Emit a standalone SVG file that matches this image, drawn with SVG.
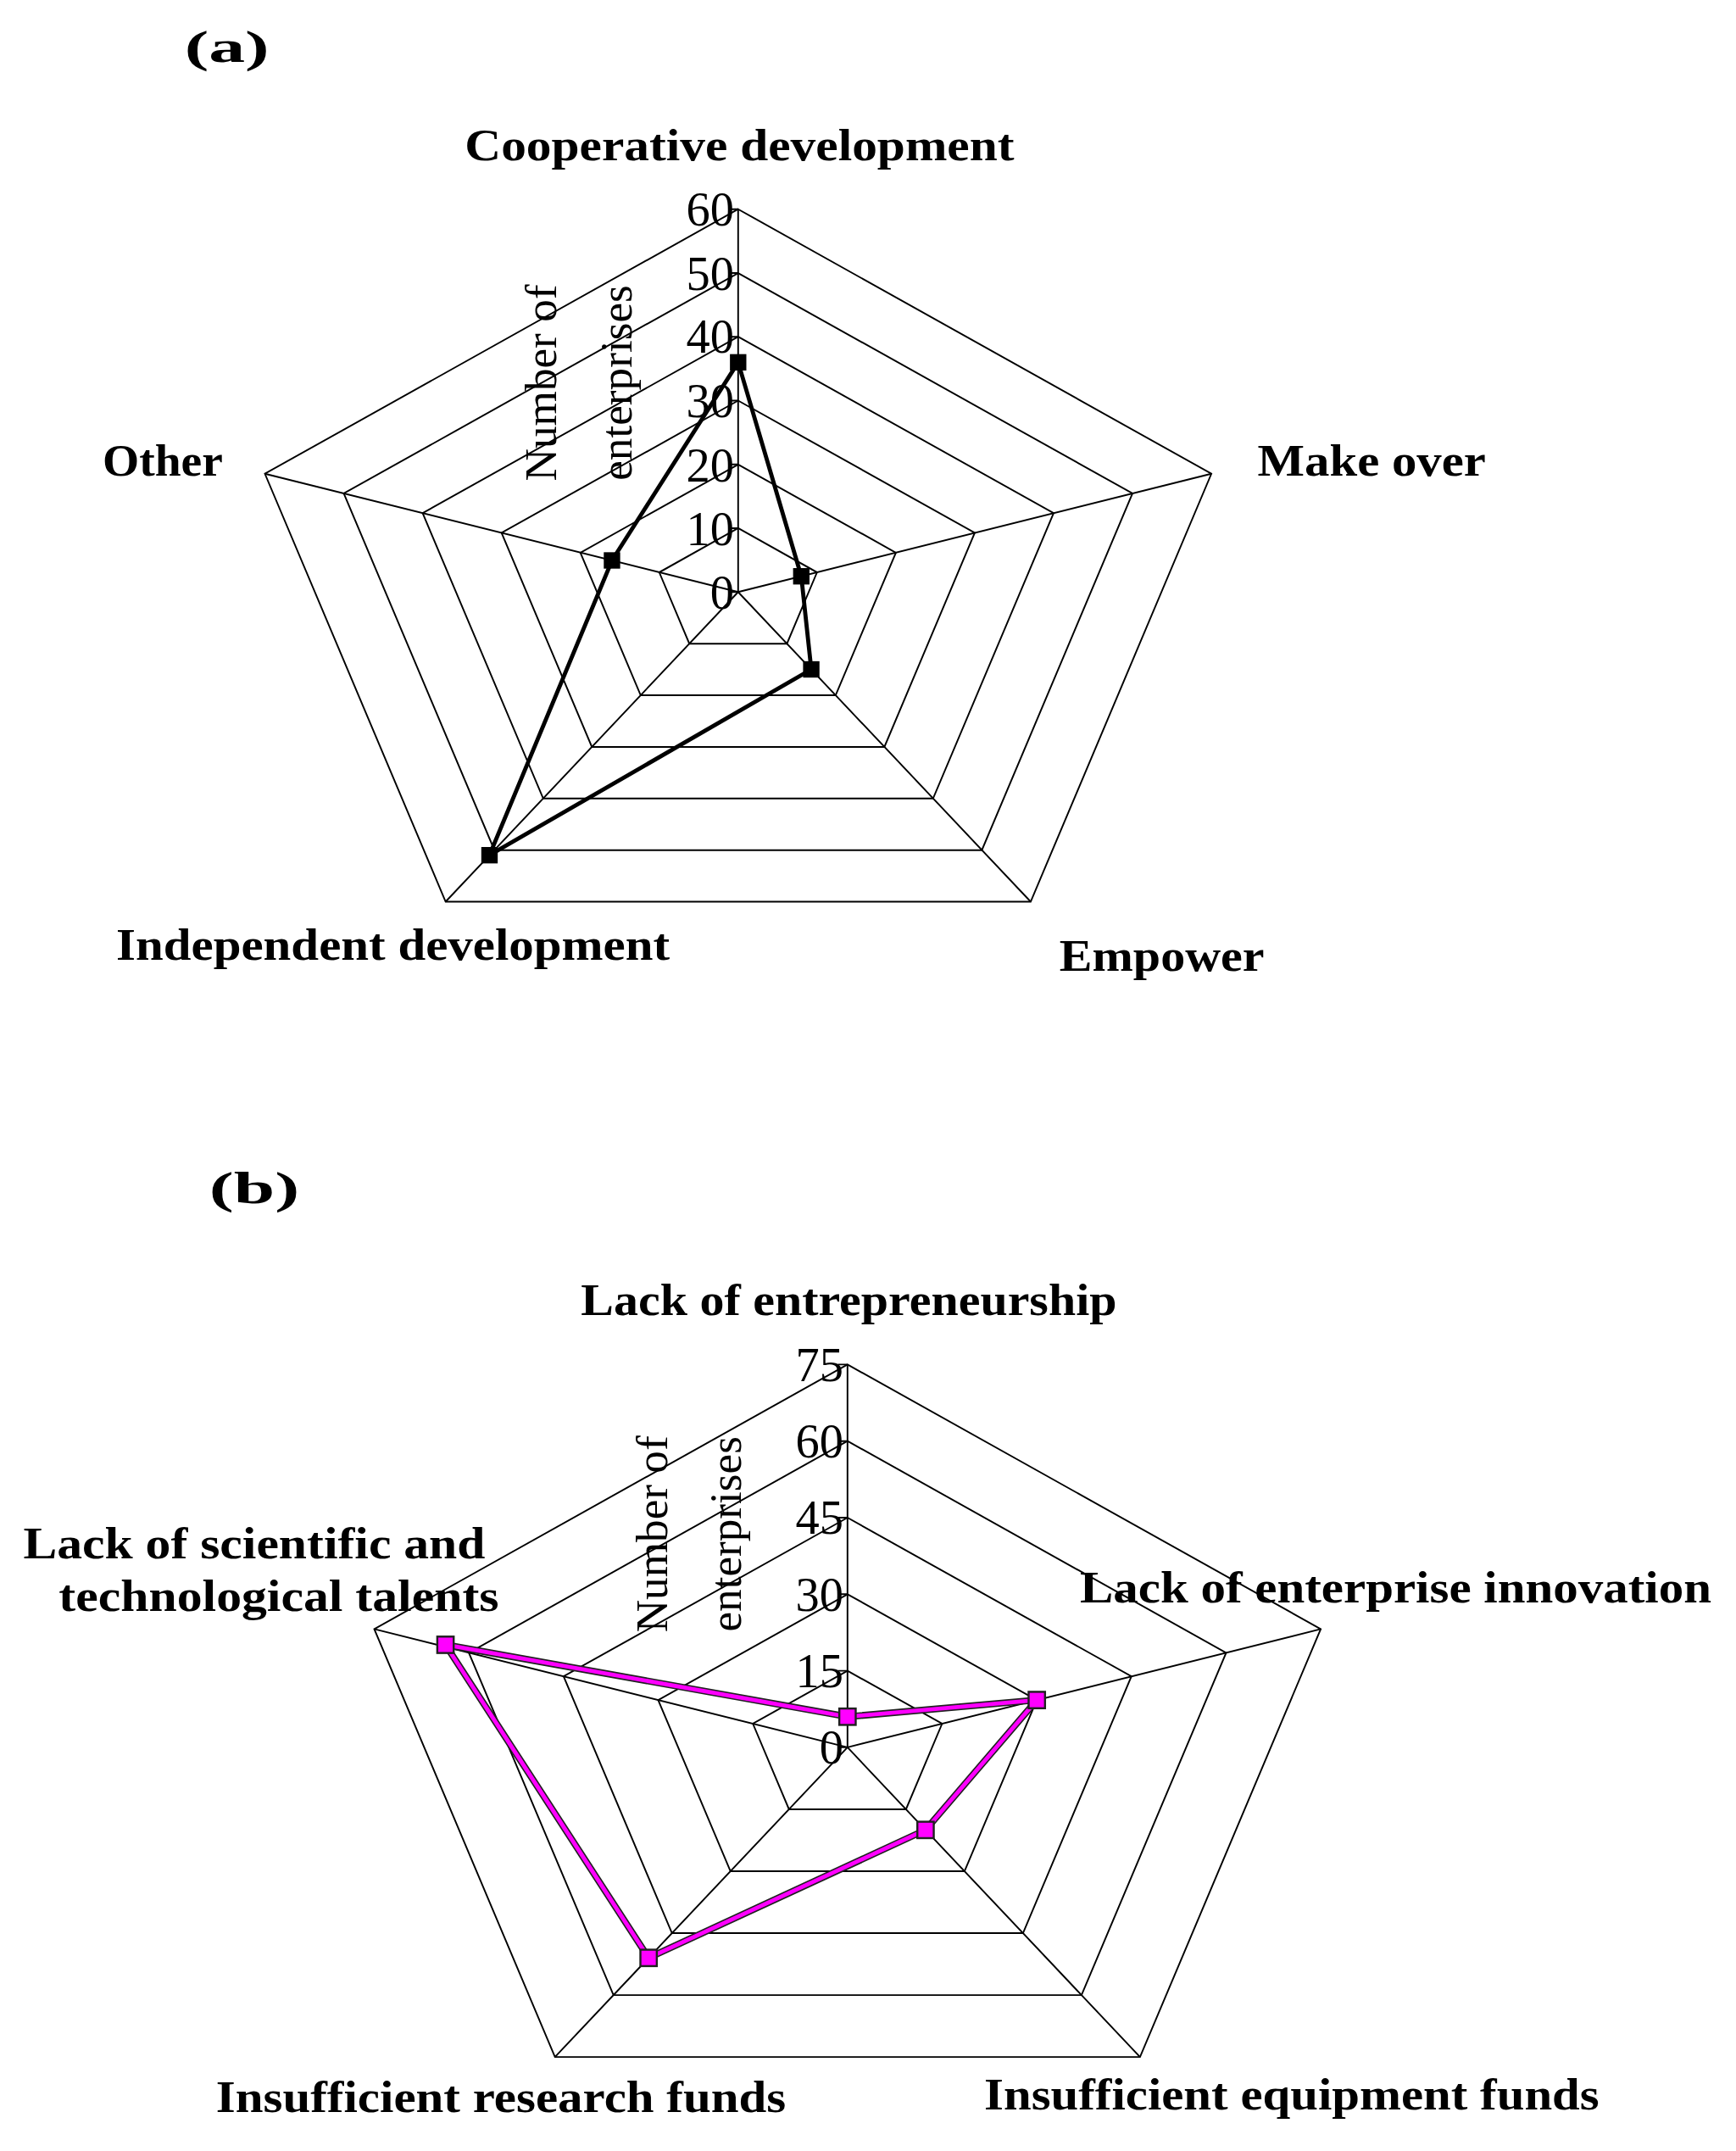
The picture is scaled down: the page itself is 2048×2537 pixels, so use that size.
<svg xmlns="http://www.w3.org/2000/svg" width="2048" height="2537" viewBox="0 0 2048 2537">
<style>
.g{fill:none;stroke:#000;stroke-width:1.2}
.t{font-family:"Liberation Serif",serif;font-size:33px;fill:#000}
.b{font-weight:bold}
.n{font-family:"Liberation Serif",serif;font-size:35px;fill:#000;text-anchor:end}
.da{fill:none;stroke:#000;stroke-width:3}
.db{fill:none;stroke:#ff00ff;stroke-width:3}
.db2{fill:none;stroke:#202020;stroke-width:5}
</style>
<rect width="2048" height="2537" fill="#fff"/>
<g transform="scale(1.6126)">
<g id="chartA">
<g id="gridA">
<polygon class="g" points="540,386.3 597.7,418.6 575.7,470.8 504.3,470.8 482.3,418.6"/>
<polygon class="g" points="540,339.7 655.4,404.2 611.3,508.5 468.7,508.5 424.6,404.2"/>
<polygon class="g" points="540,293 713.1,389.7 647,546.3 433,546.3 366.9,389.7"/>
<polygon class="g" points="540,246.3 770.8,375.3 682.6,584 397.4,584 309.2,375.3"/>
<polygon class="g" points="540,199.7 828.5,360.9 718.3,621.8 361.7,621.8 251.5,360.9"/>
<polygon class="g" points="540,153 886.2,346.5 754,659.5 326,659.5 193.8,346.5"/>
<path class="g" d="M540,433L540,153M540,433L886.2,346.5M540,433L754,659.5M540,433L326,659.5M540,433L193.8,346.5"/>
<path class="g" d="M533,433H540M533,386.3H540M533,339.7H540M533,293H540M533,246.3H540M533,199.7H540M533,153H540"/>
</g>
<g id="ticksA">
<text class="n" x="537" y="445">0</text>
<text class="n" x="537" y="399">10</text>
<text class="n" x="537" y="352">20</text>
<text class="n" x="537" y="305">30</text>
<text class="n" x="537" y="258">40</text>
<text class="n" x="537" y="212">50</text>
<text class="n" x="537" y="165">60</text>
</g>
<text class="t" transform="translate(407,280) rotate(-90)" text-anchor="middle" font-size="38">Number of</text>
<text class="t" transform="translate(462,280) rotate(-90)" text-anchor="middle" font-size="38">enterprises</text>
<g id="seriesA">
<polygon class="da" points="540,265 586.2,421.5 593.5,489.6 358.1,625.5 447.7,409.9"/>
<g fill="#000">
<rect x="534" y="259" width="12" height="12"/>
<rect x="580.2" y="415.5" width="12" height="12"/>
<rect x="587.5" y="483.6" width="12" height="12"/>
<rect x="352.1" y="619.5" width="12" height="12"/>
<rect x="441.7" y="403.9" width="12" height="12"/>
</g>
</g>
<text class="t b" x="135" y="45" font-size="40" textLength="62" lengthAdjust="spacingAndGlyphs">(a)</text>
<text class="t b" x="340" y="117" textLength="402" lengthAdjust="spacingAndGlyphs">Cooperative development</text>
<text class="t b" x="920" y="348" textLength="167" lengthAdjust="spacingAndGlyphs">Make over</text>
<text class="t b" x="75" y="348" textLength="88" lengthAdjust="spacingAndGlyphs">Other</text>
<text class="t b" x="85" y="702" textLength="405" lengthAdjust="spacingAndGlyphs">Independent development</text>
<text class="t b" x="775" y="710" textLength="150" lengthAdjust="spacingAndGlyphs">Empower</text>
</g>
<g id="chartB">
<g id="gridB">
<polygon class="g" points="620,1222 689.2,1260.7 662.8,1323.3 577.2,1323.3 550.8,1260.7"/>
<polygon class="g" points="620,1166 758.5,1243.4 705.6,1368.6 534.4,1368.6 481.5,1243.4"/>
<polygon class="g" points="620,1110 827.7,1226.1 748.4,1413.9 491.6,1413.9 412.3,1226.1"/>
<polygon class="g" points="620,1054 897,1208.8 791.2,1459.2 448.8,1459.2 343,1208.8"/>
<polygon class="g" points="620,998 966.2,1191.5 834,1504.5 406,1504.5 273.8,1191.5"/>
<path class="g" d="M620,1278L620,998M620,1278L966.2,1191.5M620,1278L834,1504.5M620,1278L406,1504.5M620,1278L273.8,1191.5"/>
<path class="g" d="M613,1278H620M613,1222H620M613,1166H620M613,1110H620M613,1054H620M613,998H620"/>
</g>
<g id="ticksB">
<text class="n" x="617" y="1290">0</text>
<text class="n" x="617" y="1234">15</text>
<text class="n" x="617" y="1178">30</text>
<text class="n" x="617" y="1122">45</text>
<text class="n" x="617" y="1066">60</text>
<text class="n" x="617" y="1010">75</text>
</g>
<text class="t" transform="translate(488,1122) rotate(-90)" text-anchor="middle" font-size="38">Number of</text>
<text class="t" transform="translate(542,1122) rotate(-90)" text-anchor="middle" font-size="38">enterprises</text>
<g id="seriesB">
<polygon class="db2" points="620,1255.6 758.5,1243.4 677.1,1338.4 474.5,1432 325.9,1203"/>
<polygon class="db" points="620,1255.6 758.5,1243.4 677.1,1338.4 474.5,1432 325.9,1203"/>
<g fill="#ff00ff" stroke="#202020" stroke-width="1.5">
<rect x="614" y="1249.6" width="12" height="12"/>
<rect x="752.5" y="1237.4" width="12" height="12"/>
<rect x="671.1" y="1332.4" width="12" height="12"/>
<rect x="468.5" y="1426" width="12" height="12"/>
<rect x="319.9" y="1197" width="12" height="12"/>
</g>
</g>
<text class="t b" x="153" y="880" font-size="40" textLength="66" lengthAdjust="spacingAndGlyphs">(b)</text>
<text class="t b" x="425" y="962" textLength="392" lengthAdjust="spacingAndGlyphs">Lack of entrepreneurship</text>
<text class="t b" x="790" y="1172" textLength="462" lengthAdjust="spacingAndGlyphs">Lack of enterprise innovation</text>
<text class="t b" x="17" y="1140" textLength="338" lengthAdjust="spacingAndGlyphs">Lack of scientific and</text>
<text class="t b" x="43" y="1178" textLength="322" lengthAdjust="spacingAndGlyphs">technological talents</text>
<text class="t b" x="158" y="1545" textLength="417" lengthAdjust="spacingAndGlyphs">Insufficient research funds</text>
<text class="t b" x="720" y="1543" textLength="450" lengthAdjust="spacingAndGlyphs">Insufficient equipment funds</text>
</g>
</g>
</svg>
